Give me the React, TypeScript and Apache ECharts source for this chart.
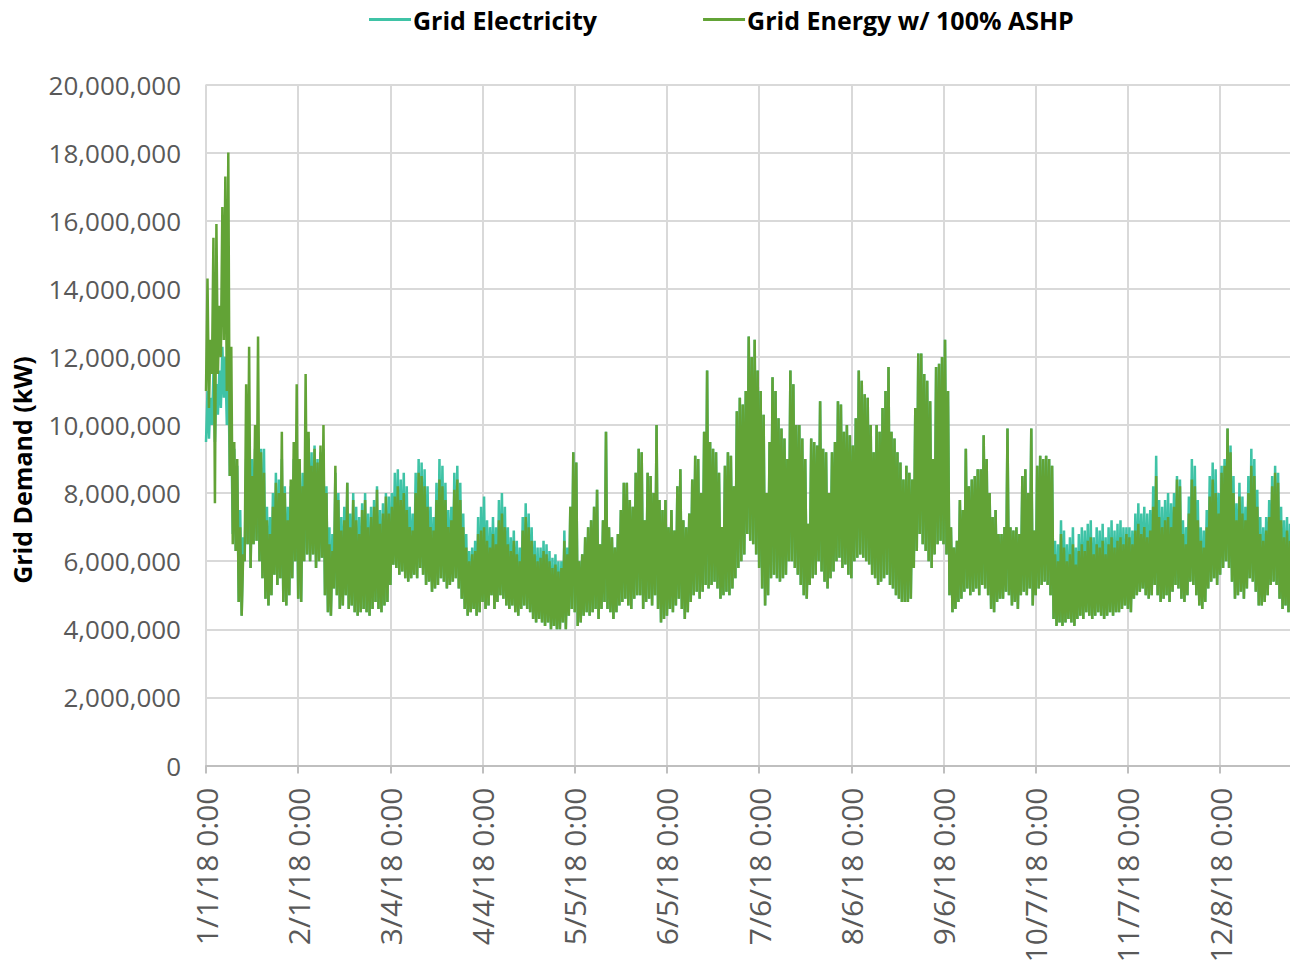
import React, { useEffect, useRef } from "react";
import * as echarts from "echarts";

// Values in millions of kW, one low (night) and one high (afternoon) per day of 2018
const UNIT = 1000000;

const tickLabels = [
  "1/1/18 0:00", "2/1/18 0:00", "3/4/18 0:00", "4/4/18 0:00", "5/5/18 0:00", "6/5/18 0:00",
  "7/6/18 0:00", "8/6/18 0:00", "9/6/18 0:00", "10/7/18 0:00", "11/7/18 0:00", "12/8/18 0:00",
];

const greenHigh = [
  14.3, 12.5, 15.5, 15.9, 13.5, 16.4, 17.3, 18.0, 12.3, 9.5,
  9.0, 7.0, 6.2, 11.2, 12.3, 8.5, 10.0, 12.6, 9.2, 8.6,
  7.2, 6.8, 7.6, 8.3, 8.0, 9.8, 8.0, 7.2, 8.4, 9.5,
  11.2, 9.0, 8.2, 11.5, 9.8, 8.8, 9.3, 8.9, 9.4, 10.0,
  8.0, 6.5, 6.3, 8.8, 7.8, 6.9, 7.2, 8.3, 7.0, 7.8,
  7.2, 6.8, 7.5, 7.8, 7.0, 7.3, 7.6, 8.1, 7.1, 7.4,
  7.9, 7.4, 7.6, 7.9, 8.2, 7.8, 8.0, 7.5, 7.0, 6.9,
  8.0, 8.6, 8.5, 8.2, 7.6, 7.0, 6.9, 7.8, 8.4, 8.2,
  7.8, 7.0, 7.2, 8.1, 8.4, 7.8, 7.0, 6.4, 6.0, 6.2,
  6.3, 6.8, 6.9, 7.0, 6.6, 6.4, 6.8, 6.5, 7.2, 7.4,
  7.0, 6.5, 6.3, 6.6, 6.2, 6.0, 6.9, 7.3, 7.0, 6.6,
  6.2, 6.0, 6.1, 6.3, 6.2, 6.0, 5.8, 5.9, 5.7, 5.8,
  6.6, 6.2, 7.6, 9.2, 8.9, 6.0, 6.2, 6.7, 7.0, 7.2,
  7.6, 8.1, 6.5, 7.2, 9.8, 7.0, 6.7, 6.4, 6.8, 7.5,
  8.3, 8.3, 7.8, 7.6, 8.6, 9.3, 9.2, 7.2, 8.6, 8.5,
  8.0, 10.0, 7.8, 7.5, 7.8, 7.0, 7.5, 6.9, 8.2, 8.7,
  7.2, 7.0, 7.4, 8.4, 9.1, 9.0, 8.0, 9.8, 11.6, 9.5,
  9.3, 9.2, 8.6, 7.0, 8.8, 9.2, 9.1, 8.2, 10.4, 10.8,
  10.6, 11.0, 12.6, 12.0, 12.5, 11.6, 11.0, 10.3, 8.0, 9.5,
  11.4, 11.0, 10.2, 9.9, 9.6, 9.0, 11.6, 11.2, 10.0, 10.0,
  9.6, 9.0, 7.1, 9.6, 9.5, 9.4, 10.7, 9.3, 9.2, 8.0,
  9.2, 9.5, 10.7, 10.6, 9.8, 10.0, 9.7, 9.4, 10.2, 11.6,
  11.3, 10.9, 10.8, 10.0, 9.2, 10.0, 9.8, 10.5, 11.0, 11.7,
  9.8, 9.6, 9.2, 8.9, 8.4, 8.8, 8.6, 8.4, 10.5, 12.1,
  12.1, 11.5, 11.3, 10.7, 9.0, 11.7, 11.8, 12.0, 12.5, 11.0,
  7.0, 6.4, 6.6, 7.8, 7.5, 9.3, 8.2, 8.4, 8.5, 8.7,
  8.7, 9.7, 9.0, 8.0, 7.3, 7.5, 6.8, 6.8, 7.0, 9.9,
  7.0, 6.9, 7.0, 6.8, 8.5, 8.7, 8.0, 9.9, 6.9, 8.8,
  9.1, 9.0, 9.1, 9.0, 8.8, 6.2, 6.0, 6.8, 6.4, 6.0,
  6.2, 6.5, 5.9, 6.3, 6.5, 6.3, 6.6, 6.7, 6.2, 6.5,
  6.4, 6.6, 6.2, 6.5, 6.7, 6.4, 6.6, 6.7, 6.5, 6.8,
  6.7, 6.5, 6.9, 7.1, 6.8, 7.0, 6.7, 6.9, 7.6, 8.5,
  7.3, 7.0, 7.2, 7.3, 7.0, 7.6, 8.4, 8.2, 6.8, 6.5,
  7.4, 8.4, 8.2, 7.2, 6.6, 6.4, 7.0, 7.9, 8.4, 8.0,
  7.4, 8.6, 8.8, 9.9, 9.2, 8.0, 7.2, 7.9, 7.4, 7.2,
  8.0, 8.8, 8.5, 7.6, 6.8, 6.6, 6.9, 7.3, 8.2, 8.6,
  8.3, 7.2, 6.7, 6.9, 6.6,
];

const greenLow = [
  11.0, 10.5, 11.5, 7.7, 11.5, 12.0, 12.5, 11.0, 8.5, 6.5,
  6.3, 4.8, 4.4, 6.0, 6.5, 5.8, 6.5, 6.6, 6.0, 5.5,
  4.9, 4.7, 5.0, 5.6, 5.3, 5.5, 4.8, 4.7, 5.0, 5.5,
  6.0, 4.9, 4.8, 6.0, 6.2, 6.0, 6.2, 5.8, 6.0, 6.1,
  5.0, 4.5, 4.4, 5.2, 5.0, 4.6, 4.7, 5.0, 4.6, 4.7,
  4.5, 4.4, 4.5, 4.6, 4.5, 4.4, 4.6, 4.8, 4.6, 4.5,
  4.7, 4.8, 5.3, 5.9, 5.8, 5.6, 5.7, 5.5, 5.4, 5.5,
  5.6, 5.5, 5.8, 5.6, 5.3, 5.4, 5.1, 5.2, 5.3, 5.5,
  5.4, 5.2, 5.3, 5.4, 5.5, 5.2, 4.9, 4.6, 4.4, 4.5,
  4.6, 4.4, 4.5, 4.8, 4.6, 4.7, 5.0, 4.6, 4.8, 5.0,
  4.9, 4.7, 4.6, 4.7, 4.5, 4.4, 4.6, 4.7, 4.6, 4.5,
  4.3, 4.2, 4.3, 4.2, 4.1, 4.2, 4.0, 4.1, 4.0, 4.0,
  4.2, 4.0, 4.4, 4.6, 4.5, 4.1, 4.2, 4.4, 4.5, 4.4,
  4.5, 4.6, 4.3, 4.6, 4.8, 4.6, 4.5, 4.3, 4.5, 4.7,
  4.8, 4.9, 4.7, 4.6, 4.9, 5.0, 5.0, 4.6, 4.8, 4.9,
  4.7, 5.0, 4.6, 4.2, 4.3, 4.4, 4.6, 4.5, 4.7, 4.9,
  4.6, 4.3, 4.5, 4.8, 5.0, 5.1, 4.9, 5.1, 5.3, 5.2,
  5.3, 5.4, 5.2, 4.9, 5.0, 5.1, 5.0, 5.2, 5.5, 5.8,
  6.0, 6.2, 6.8, 6.6, 6.5, 6.2, 5.8, 5.2, 4.7, 5.0,
  5.5, 5.6, 5.5, 5.4, 5.5, 5.6, 6.0, 6.0, 5.8, 5.6,
  5.3, 5.0, 4.9, 5.3, 5.5, 5.6, 6.0, 5.7, 5.4, 5.2,
  5.5, 5.7, 6.0, 6.1, 5.8, 5.9, 5.6, 5.5, 6.0, 6.1,
  6.2, 6.1, 6.0, 5.9, 5.6, 5.5, 5.3, 5.4, 5.5, 5.6,
  5.3, 5.2, 5.0, 4.9, 4.8, 4.8, 4.8, 4.9, 5.8, 6.3,
  6.8, 6.5, 6.3, 6.0, 5.8, 6.2, 6.5, 6.6, 6.5, 6.2,
  5.0, 4.5, 4.6, 4.8, 4.9, 5.1, 5.2, 5.0, 5.1, 5.2,
  5.0, 5.3, 5.2, 5.0, 4.6, 4.5, 4.8, 4.9, 4.9, 5.1,
  5.0, 4.7, 4.8, 4.6, 5.0, 5.1, 5.0, 5.2, 4.7, 5.0,
  5.2, 5.3, 5.4, 5.3, 5.0, 4.3, 4.1, 4.2, 4.1, 4.2,
  4.3, 4.2, 4.1, 4.3, 4.4, 4.3, 4.5, 4.4, 4.3, 4.4,
  4.5, 4.4, 4.3, 4.4, 4.5, 4.4, 4.5, 4.5, 4.6, 4.7,
  4.6, 4.5, 4.9, 5.0, 5.1, 5.2, 5.0, 4.9, 5.0, 5.3,
  5.0, 4.8, 4.9, 5.0, 4.8, 5.1, 5.3, 5.2, 4.9, 4.8,
  5.0, 5.4, 5.3, 5.0, 4.7, 4.6, 4.8, 5.2, 5.4, 5.5,
  5.3, 5.6, 5.8, 6.0, 5.8, 5.4, 4.9, 5.0, 5.1, 4.9,
  5.2, 5.5, 5.4, 5.1, 4.7, 4.7, 4.8, 5.0, 5.3, 5.4,
  5.3, 4.9, 4.6, 4.7, 4.5,
];

const tealHigh = [
  11.0, 10.8, 11.5, 11.2, 11.6, 12.3, 12.0, 11.8, 10.0, 9.3,
  8.8, 7.5, 6.7, 9.0, 9.5, 9.0, 9.3, 9.5, 9.3, 9.3,
  7.6, 7.3, 8.0, 8.6, 8.4, 9.0, 8.2, 7.6, 8.2, 9.0,
  9.5, 8.8, 8.6, 9.4, 9.6, 9.2, 9.4, 9.0, 9.2, 9.3,
  8.2, 7.0, 6.8, 8.6, 8.0, 7.3, 7.6, 8.3, 7.4, 8.0,
  7.6, 7.3, 7.7, 8.0, 7.4, 7.6, 7.8, 8.2, 7.5, 7.7,
  8.0, 7.9, 8.0, 8.6, 8.7, 8.4, 8.6, 8.2, 7.6, 7.4,
  8.6, 9.0, 8.9, 8.7, 8.2, 7.6, 7.3, 8.3, 9.0, 8.8,
  8.3, 7.5, 7.6, 8.6, 8.8, 8.3, 7.4, 6.8, 6.3, 6.4,
  6.6, 7.3, 7.6, 7.9, 7.2, 7.0, 7.3, 7.0, 7.8, 8.0,
  7.6, 7.0, 6.7, 6.9, 6.6, 6.4, 7.3, 7.7, 7.4, 7.0,
  6.6, 6.4, 6.4, 6.6, 6.5, 6.3, 6.1, 6.2, 6.0, 6.0,
  6.9, 6.4, 7.6, 9.2, 8.9, 6.0, 6.2, 6.7, 7.0, 7.2,
  7.6, 8.1, 6.5, 7.2, 9.8, 7.0, 6.7, 6.4, 6.8, 7.5,
  8.3, 8.3, 7.8, 7.6, 8.6, 9.3, 9.2, 7.2, 8.6, 8.5,
  8.0, 10.0, 7.8, 7.5, 7.8, 7.0, 7.5, 6.9, 8.2, 8.7,
  7.2, 7.0, 7.4, 8.4, 9.1, 9.0, 8.0, 9.8, 11.6, 9.5,
  9.3, 9.2, 8.6, 7.0, 8.8, 9.2, 9.1, 8.2, 10.4, 10.8,
  10.6, 11.0, 12.6, 12.0, 12.5, 11.6, 11.0, 10.3, 8.0, 9.5,
  11.4, 11.0, 10.2, 9.9, 9.6, 9.0, 11.6, 11.2, 10.0, 10.0,
  9.6, 9.0, 7.1, 9.6, 9.5, 9.4, 10.7, 9.3, 9.2, 8.0,
  9.2, 9.5, 10.7, 10.6, 9.8, 10.0, 9.7, 9.4, 10.2, 11.6,
  11.3, 10.9, 10.8, 10.0, 9.2, 10.0, 9.8, 10.5, 11.0, 11.7,
  9.8, 9.6, 9.2, 8.9, 8.4, 8.8, 8.6, 8.4, 10.5, 12.1,
  12.1, 11.5, 11.3, 10.7, 9.0, 11.7, 11.8, 12.0, 12.5, 11.0,
  7.0, 6.4, 6.6, 7.8, 7.5, 9.3, 8.2, 8.4, 8.5, 8.7,
  8.7, 9.7, 9.0, 8.0, 7.3, 7.5, 6.8, 6.8, 7.0, 9.9,
  7.0, 6.9, 7.0, 6.8, 8.5, 8.7, 8.0, 9.9, 6.9, 8.8,
  9.1, 9.0, 9.1, 9.0, 8.8, 6.6, 6.5, 7.2, 6.9, 6.5,
  6.7, 7.0, 6.4, 6.8, 7.0, 6.9, 7.1, 7.2, 6.7, 7.0,
  6.9, 7.1, 6.7, 7.0, 7.2, 6.9, 7.1, 7.2, 7.0, 7.0,
  7.0, 6.9, 7.4, 7.7, 7.4, 7.6, 7.4, 7.5, 8.2, 9.1,
  7.8, 7.6, 7.8, 8.0, 7.7, 8.0, 8.5, 8.4, 7.2, 7.0,
  7.9, 9.0, 8.8, 7.8, 7.0, 6.9, 7.5, 8.5, 8.9, 8.7,
  8.0, 8.8, 9.0, 9.9, 9.4, 8.5, 7.7, 8.3, 7.9, 7.6,
  8.5, 9.3, 9.0, 8.1, 7.3, 7.0, 7.3, 7.8, 8.5, 8.8,
  8.6, 7.6, 7.2, 7.3, 7.1,
];

const tealLow = [
  9.5, 9.6, 10.0, 9.5, 10.3, 10.5, 10.8, 10.0, 8.5, 6.8,
  6.3, 4.8, 4.4, 6.0, 6.5, 5.8, 6.5, 6.6, 6.0, 5.5,
  4.9, 4.7, 5.0, 5.6, 5.3, 5.5, 4.8, 4.7, 5.0, 5.5,
  6.0, 4.9, 4.8, 6.0, 6.2, 6.0, 6.2, 5.8, 6.0, 6.1,
  5.0, 4.5, 4.4, 5.2, 5.0, 4.6, 4.7, 5.0, 4.6, 4.7,
  4.5, 4.4, 4.5, 4.6, 4.5, 4.4, 4.6, 4.8, 4.6, 4.5,
  4.7, 4.8, 5.3, 5.9, 5.8, 5.6, 5.7, 5.5, 5.4, 5.5,
  5.6, 5.5, 5.8, 5.6, 5.3, 5.4, 5.1, 5.2, 5.3, 5.5,
  5.4, 5.2, 5.3, 5.4, 5.5, 5.2, 4.9, 4.6, 4.4, 4.5,
  4.6, 4.4, 4.5, 4.8, 4.6, 4.7, 5.0, 4.6, 4.8, 5.0,
  4.9, 4.7, 4.6, 4.7, 4.5, 4.4, 4.6, 4.7, 4.6, 4.5,
  4.3, 4.2, 4.3, 4.2, 4.1, 4.2, 4.0, 4.1, 4.0, 4.0,
  4.2, 4.0, 4.4, 4.6, 4.5, 4.1, 4.2, 4.4, 4.5, 4.4,
  4.5, 4.6, 4.3, 4.6, 4.8, 4.6, 4.5, 4.3, 4.5, 4.7,
  4.8, 4.9, 4.7, 4.6, 4.9, 5.0, 5.0, 4.6, 4.8, 4.9,
  4.7, 5.0, 4.6, 4.2, 4.3, 4.4, 4.6, 4.5, 4.7, 4.9,
  4.6, 4.3, 4.5, 4.8, 5.0, 5.1, 4.9, 5.1, 5.3, 5.2,
  5.3, 5.4, 5.2, 4.9, 5.0, 5.1, 5.0, 5.2, 5.5, 5.8,
  6.0, 6.2, 6.8, 6.6, 6.5, 6.2, 5.8, 5.2, 4.7, 5.0,
  5.5, 5.6, 5.5, 5.4, 5.5, 5.6, 6.0, 6.0, 5.8, 5.6,
  5.3, 5.0, 4.9, 5.3, 5.5, 5.6, 6.0, 5.7, 5.4, 5.2,
  5.5, 5.7, 6.0, 6.1, 5.8, 5.9, 5.6, 5.5, 6.0, 6.1,
  6.2, 6.1, 6.0, 5.9, 5.6, 5.5, 5.3, 5.4, 5.5, 5.6,
  5.3, 5.2, 5.0, 4.9, 4.8, 4.8, 4.8, 4.9, 5.8, 6.3,
  6.8, 6.5, 6.3, 6.0, 5.8, 6.2, 6.5, 6.6, 6.5, 6.2,
  5.0, 4.5, 4.6, 4.8, 4.9, 5.1, 5.2, 5.0, 5.1, 5.2,
  5.0, 5.3, 5.2, 5.0, 4.6, 4.5, 4.8, 4.9, 4.9, 5.1,
  5.0, 4.7, 4.8, 4.6, 5.0, 5.1, 5.0, 5.2, 4.7, 5.0,
  5.2, 5.3, 5.4, 5.3, 5.0, 4.3, 4.1, 4.2, 4.1, 4.2,
  4.3, 4.2, 4.1, 4.3, 4.4, 4.3, 4.5, 4.4, 4.3, 4.4,
  4.5, 4.4, 4.3, 4.4, 4.5, 4.4, 4.5, 4.5, 4.6, 4.7,
  4.6, 4.5, 4.9, 5.0, 5.1, 5.2, 5.0, 4.9, 5.0, 5.3,
  5.0, 4.8, 4.9, 5.0, 4.8, 5.1, 5.3, 5.2, 4.9, 4.8,
  5.0, 5.4, 5.3, 5.0, 4.7, 4.6, 4.8, 5.2, 5.4, 5.5,
  5.3, 5.6, 5.8, 6.0, 5.8, 5.4, 4.9, 5.0, 5.1, 4.9,
  5.2, 5.5, 5.4, 5.1, 4.7, 4.7, 4.8, 5.0, 5.3, 5.4,
  5.3, 4.9, 4.6, 4.7, 4.5,
];

const seriesNames = ["Grid Electricity", "Grid Energy w/ 100% ASHP"];
const seriesColors = ["#3FC3A6", "#62A336"];
const yTitle = "Grid Demand (kW)";
const POINTS_PER_TICK = 62; // 31 days x 2 samples

function buildCategories(): string[] {
  const out: string[] = [];
  for (let d = 0; d < greenHigh.length; d++) {
    const dt = new Date(Date.UTC(2018, 0, 1 + d));
    const base = `${dt.getUTCMonth() + 1}/${dt.getUTCDate()}/18`;
    out.push(`${base} 4:00`, `${base} 16:00`);
  }
  return out;
}

function interleave(lo: number[], hi: number[]): number[] {
  const out: number[] = [];
  for (let i = 0; i < lo.length; i++) {
    out.push(lo[i] * UNIT, hi[i] * UNIT);
  }
  return out;
}

const isTick = (idx: number) => idx % POINTS_PER_TICK === 0;

export default function App() {
  const ref = useRef<HTMLDivElement>(null);

  useEffect(() => {
    if (!ref.current) return;
    const chart = echarts.init(ref.current, undefined, { renderer: "svg" });
    const categories = buildCategories();
    const tealData = interleave(tealLow, tealHigh);
    const greenData = interleave(greenLow, greenHigh);

    chart.setOption({
      animation: false,
      backgroundColor: "#ffffff",
      textStyle: { fontFamily: "Open Sans" },
      legend: {
        left: 364,
        top: 2,
        itemWidth: 42,
        itemHeight: 3,
        itemGap: 106,
        icon: "rect",
        textStyle: { fontFamily: "Open Sans", fontWeight: "bold", fontSize: 25, color: "#000000", padding: [0, 0, 0, -3] },
        data: seriesNames,
      },
      grid: { left: 206, top: 84.5, width: 1090, height: 681, containLabel: false },
      graphic: [
        {
          type: "text",
          x: 22,
          y: 470,
          rotation: Math.PI / 2,
          style: {
            text: yTitle,
            fontFamily: "Open Sans",
            fontWeight: "bold",
            fontSize: 25,
            fill: "#000000",
            textAlign: "center",
            textVerticalAlign: "middle",
          },
        },
      ],
      xAxis: {
        type: "category",
        data: categories,
        boundaryGap: false,
        axisLine: { show: true, lineStyle: { color: "#BFBFBF", width: 2 } },
        axisTick: { show: true, interval: (i: number) => isTick(i), length: 8, lineStyle: { color: "#BFBFBF", width: 2 } },
        axisLabel: {
          interval: (i: number) => isTick(i),
          rotate: 90,
          margin: 22,
          fontSize: 30,
          color: "#595959",
          fontFamily: "Open Sans",
          formatter: (_v: string, i: number) => (isTick(i) ? tickLabels[i / POINTS_PER_TICK] : ""),
        },
        splitLine: { show: true, interval: (i: number) => isTick(i), lineStyle: { color: "#D9D9D9", width: 2 } },
      },
      yAxis: {
        type: "value",
        min: 0,
        max: 20000000,
        interval: 2000000,
        axisLine: { show: false },
        axisTick: { show: false },
        axisLabel: {
          margin: 25,
          fontSize: 26,
          color: "#595959",
          fontFamily: "Open Sans",
          formatter: (v: number) => v.toLocaleString("en-US"),
        },
        splitLine: { show: true, lineStyle: { color: "#D9D9D9", width: 2 } },
      },
      series: [
        {
          name: seriesNames[0],
          type: "line",
          data: tealData,
          symbol: "none",
          showSymbol: false,
          z: 2,
          itemStyle: { color: seriesColors[0] },
          lineStyle: { color: seriesColors[0], width: 2.5 },
        },
        {
          name: seriesNames[1],
          type: "line",
          data: greenData,
          symbol: "none",
          showSymbol: false,
          z: 3,
          itemStyle: { color: seriesColors[1] },
          lineStyle: { color: seriesColors[1], width: 2.5 },
        },
      ],
    });

    return () => chart.dispose();
  }, []);

  return (
    <div
      ref={ref}
      style={{ position: "absolute", left: 0, top: 0, width: 1290, height: 966 }}
    />
  );
}
